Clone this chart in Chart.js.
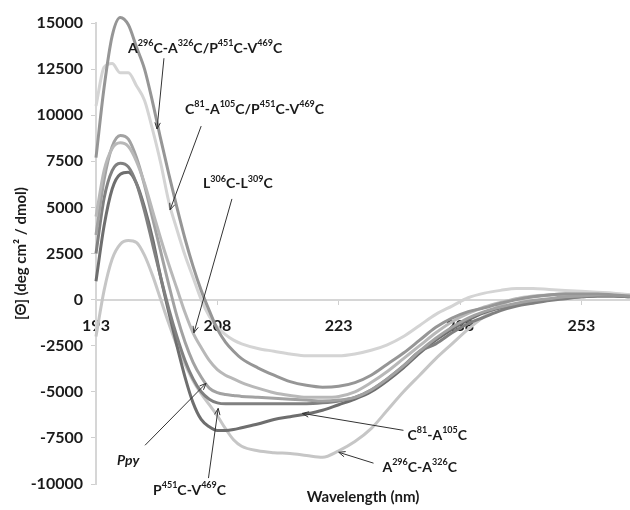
<!DOCTYPE html>
<html>
<head>
<meta charset="utf-8">
<script src="https://cdn.jsdelivr.net/npm/chart.js@4.4.0/dist/chart.umd.min.js"></script>
<style>
  html, body { margin: 0; padding: 0; background: #fff; }
  #wrap { width: 630px; height: 510px; }
</style>
</head>
<body>
<div id="wrap"><canvas id="cd"></canvas></div>
<script>
// wavelength (nm) for each reading
const wavelengths = [193, 194, 195, 196, 197, 198, 199, 200, 201, 202, 203, 204, 205, 206, 207, 208, 209, 210, 211,
    213, 215, 217, 219, 221, 223, 225, 227, 229, 231, 233, 235, 237, 239, 241, 243, 245, 247, 249, 251, 253, 255, 257, 259];

// molar ellipticity, deg cm2 / dmol
const a296p451 = [7700, 11500, 14300, 15300, 14900, 13700, 12500, 10700, 8700, 6800, 5000, 3300, 1800, 500, -600, -1600, -2300, -2800, -3200,
    -3700, -4100, -4450, -4650, -4750, -4700, -4500, -4100, -3500, -2900, -2200, -1500, -1000, -650, -450, -200, 0, 150, 250, 300, 300, 300, 250, 200];
const c81p451 = [10500, 12600, 12800, 12300, 12300, 11600, 10800, 9200, 7400, 5300, 3800, 2400, 1200, 0, -900, -1500, -1900, -2200, -2400,
    -2650, -2800, -2950, -3050, -3050, -3050, -2950, -2750, -2450, -2000, -1400, -800, -350, 100, 350, 500, 600, 600, 550, 500, 450, 400, 350, 250];
const l306 = [4500, 7000, 8200, 8500, 8300, 7500, 6300, 4800, 3300, 1900, 600, -700, -1800, -2600, -3300, -3800, -4100, -4300, -4500,
    -4800, -5050, -5200, -5300, -5300, -5250, -5000, -4500, -3900, -3200, -2500, -1800, -1200, -750, -400, -150, 50, 150, 250, 300, 300, 300, 300, 250];
const ppy = [3500, 6500, 8300, 8900, 8700, 7700, 6200, 4400, 2600, 800, -900, -2300, -3400, -4200, -4800, -5050, -5150, -5200, -5250,
    -5300, -5350, -5400, -5450, -5500, -5450, -5300, -4900, -4300, -3600, -2800, -2100, -1500, -1000, -650, -400, -200, -50, 50, 150, 200, 250, 250, 200];
const p451 = [2500, 5500, 7000, 7400, 7200, 6300, 4800, 3000, 1200, -500, -2000, -3300, -4300, -5000, -5400, -5600, -5650, -5650, -5650,
    -5650, -5650, -5650, -5650, -5600, -5500, -5300, -4900, -4300, -3600, -2800, -2400, -1800, -1300, -950, -600, -350, -200, -50, 50, 150, 200, 200, 150];
const c81 = [1000, 4000, 6000, 6800, 6900, 6300, 5000, 3300, 1200, -700, -2500, -4200, -5600, -6500, -6900, -7100, -7100, -7050, -6950,
    -6750, -6500, -6350, -6200, -6000, -5700, -5400, -5000, -4400, -3700, -2900, -2200, -1600, -1100, -700, -450, -250, -100, 0, 100, 150, 200, 200, 150];
const a296 = [-2000, 500, 2200, 3000, 3200, 3100, 2400, 1300, 0, -1300, -2500, -3500, -4400, -5100, -5700, -6300, -7000, -7600, -7950,
    -8200, -8300, -8350, -8450, -8550, -8200, -7700, -7000, -6000, -5000, -4100, -3200, -2400, -1600, -900, -300, 50, 200, 250, 300, 300, 300, 250, 200];

const seriesNames = ['A296C-A326C/P451C-V469C', 'C81-A105C/P451C-V469C', 'L306C-L309C', 'Ppy', 'P451C-V469C', 'C81-A105C', 'A296C-A326C'];
const seriesValues = [a296p451, c81p451, l306, ppy, p451, c81, a296];
const seriesColors = ['#969696', '#d4d4d4', '#b8b8b8', '#a2a2a2', '#808080', '#6e6e6e', '#c6c6c6'];

const xTicks = [193, 208, 223, 238, 253];
const yTicks = [-10000, -7500, -5000, -2500, 0, 2500, 5000, 7500, 10000, 12500, 15000];

// callouts: text anchor (left, middle) and arrow from -> tip, in axis units
const callouts = [
    { text: 'A^{296}C-A^{326}C/P^{451}C-V^{469}C', at: [196.97, 13630], from: [201.4, 13090], to: [200.54, 9250] },
    { text: 'C^{81}-A^{105}C/P^{451}C-V^{469}C', at: [204.0, 10330], from: [206.0, 9410], to: [202.15, 4870] },
    { text: 'L^{306}C-L^{309}C', at: [206.23, 6270], from: [209.8, 5460], to: [205.1, -1800] },
    { text: 'Ppy', italic: true, at: [195.6, -8710], from: [199.06, -7900], to: [206.6, -4540] },
    { text: 'P^{451}C-V^{469}C', at: [200.05, -10330], from: [206.9, -9680], to: [208.1, -5900] },
    { text: 'C^{81}-A^{105}C', at: [231.5, -7360], from: [231.0, -7090], to: [218.5, -6170] },
    { text: 'A^{296}C-A^{326}C', at: [228.4, -9090], from: [227.3, -8870], to: [223.0, -8280] }
];

const FONT = 'Lato, "Open Sans", sans-serif';

function drawRich(ctx, str, x, y, italic) {
    const parts = str.split(/(\^\{[^}]*\})/).filter(p => p.length);
    parts.forEach(p => {
        if (p.startsWith('^{')) {
            const t = p.slice(2, -1);
            ctx.font = (italic ? 'italic ' : '') + 'bold 9px ' + FONT;
            ctx.fillText(t, x, y - 5);
            x += ctx.measureText(t).width;
        } else {
            ctx.font = (italic ? 'italic ' : '') + 'bold 14px ' + FONT;
            ctx.fillText(p, x, y);
            x += ctx.measureText(p).width;
        }
    });
}

const calloutPlugin = {
    id: 'callouts',
    afterDraw(chart) {
        const { ctx, scales } = chart;
        const px = p => [scales.x.getPixelForValue(p[0]), scales.y.getPixelForValue(p[1])];
        ctx.save();
        callouts.forEach(c => {
            const [tx, ty] = px(c.at);
            ctx.fillStyle = '#1a1a1a';
            ctx.textBaseline = 'middle';
            drawRich(ctx, c.text, tx, ty, c.italic);

            const [x1, y1] = px(c.from);
            const [x2, y2] = px(c.to);
            ctx.strokeStyle = '#333';
            ctx.lineWidth = 1;
            ctx.beginPath();
            ctx.moveTo(x1, y1);
            ctx.lineTo(x2, y2);
            const ang = Math.atan2(y2 - y1, x2 - x1);
            const h = 7;
            ctx.moveTo(x2 - h * Math.cos(ang - 0.4), y2 - h * Math.sin(ang - 0.4));
            ctx.lineTo(x2, y2);
            ctx.lineTo(x2 - h * Math.cos(ang + 0.4), y2 - h * Math.sin(ang + 0.4));
            ctx.stroke();
        });
        ctx.restore();
    }
};

const datasets = seriesNames.map((name, i) => ({
    label: name,
    data: wavelengths.map((w, j) => ({ x: w, y: seriesValues[i][j] })),
    borderColor: seriesColors[i],
    borderWidth: 3,
    pointRadius: 0,
    cubicInterpolationMode: 'monotone',
    fill: false,
    clip: false
}));

const tickFont = { family: FONT, size: 16, weight: 'bold' };

new Chart(document.getElementById('cd'), {
    type: 'line',
    data: { datasets },
    options: {
        responsive: true,
        maintainAspectRatio: false,
        animation: false,
        layout: { padding: { top: 23, right: 0, bottom: 0, left: 6 } },
        plugins: {
            legend: { display: false },
            tooltip: { enabled: false }
        },
        scales: {
            x: {
                type: 'linear',
                min: 193,
                max: 259,
                position: { y: 0 },
                afterBuildTicks: axis => { axis.ticks = xTicks.map(v => ({ value: v })); },
                grid: { display: true, drawOnChartArea: false, tickLength: 4, color: '#cfcfcf' },
                border: { color: '#d6d6d6', width: 2 },
                ticks: {
                    color: '#1a1a1a',
                    font: tickFont,
                    padding: 13,
                    maxRotation: 0,
                    callback: v => String(v)
                }
            },
            x2: {
                type: 'linear',
                position: 'bottom',
                min: 193,
                max: 259,
                grid: { display: false },
                border: { display: false },
                ticks: { display: false },
                title: {
                    display: true,
                    text: 'Wavelength (nm)',
                    color: '#1a1a1a',
                    font: { family: FONT, size: 15, weight: 'bold' },
                    padding: { top: 4, bottom: 4 }
                },
                afterFit: s => { s.height = 26; }
            },
            y: {
                min: -10000,
                max: 15000,
                afterBuildTicks: axis => { axis.ticks = yTicks.map(v => ({ value: v })); },
                grid: { display: true, drawOnChartArea: false, tickLength: 5, color: '#cfcfcf' },
                border: { color: '#d6d6d6', width: 2 },
                ticks: {
                    color: '#1a1a1a',
                    font: tickFont,
                    padding: 8,
                    callback: v => String(v)
                },
                title: {
                    display: true,
                    text: '[Θ] (deg cm² / dmol)',
                    color: '#1a1a1a',
                    font: { family: FONT, size: 15, weight: 'bold' },
                    padding: { top: 6, bottom: 4 }
                },
                afterFit: s => { s.width = 90; }
            }
        }
    },
    plugins: [calloutPlugin]
});
</script>
</body>
</html>
